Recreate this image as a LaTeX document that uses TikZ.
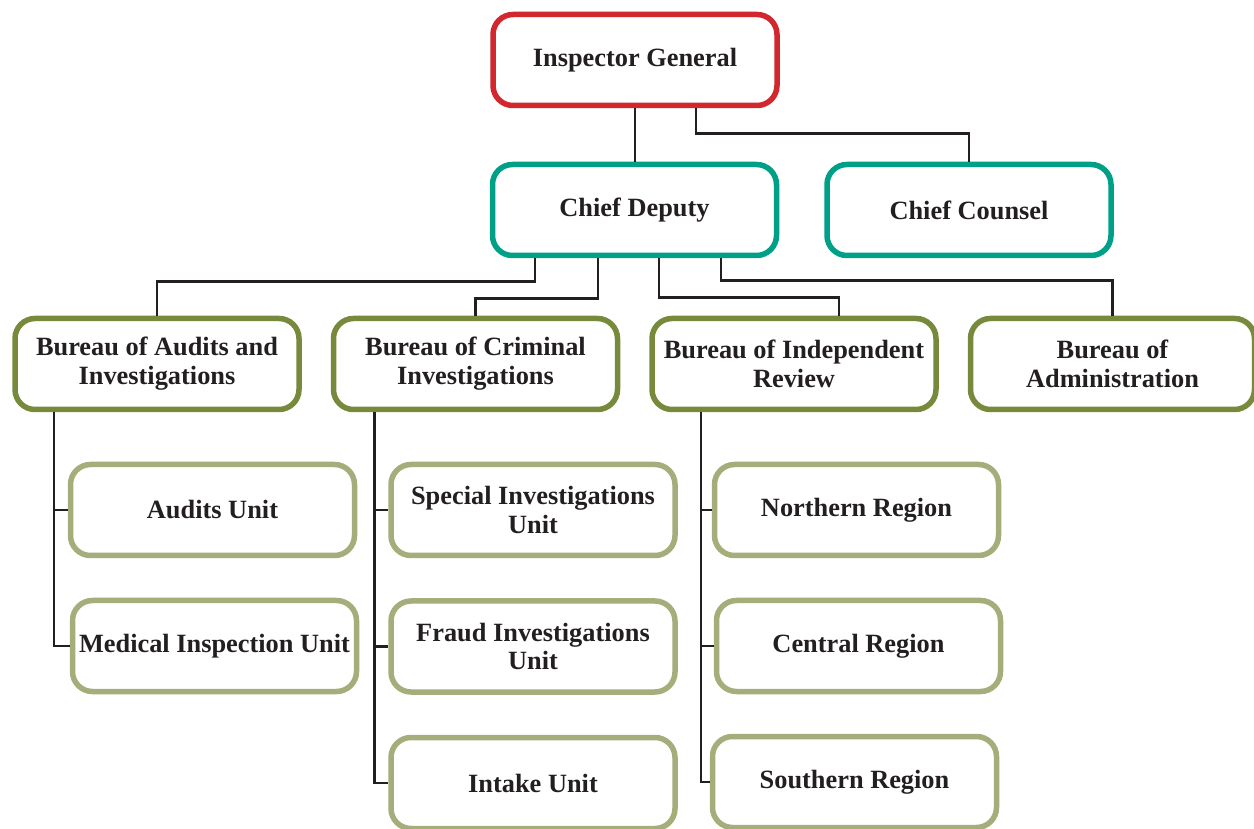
\documentclass[tikz,border=0pt]{standalone}
\usepackage{fontspec}
\setmainfont{Liberation Serif}
\usepackage{tikz}
\usetikzlibrary{calc,positioning}
\definecolor{igred}{HTML}{D3272E}
\definecolor{cdteal}{HTML}{00A088}
\definecolor{buolive}{HTML}{778A3B}
\definecolor{unitolive}{HTML}{A5AE7B}
\definecolor{txt}{HTML}{231F20}

\begin{document}
\begin{tikzpicture}[
		box/.style={draw,rounded corners=0.4cm,line width=0.11cm,minimum width=5.68cm,minimum height=1.82cm,
			align=center,text=txt,font=\fontsize{15}{16.4}\selectfont\bfseries},
		top/.style={box,draw=igred},
		deputy/.style={box,draw=cdteal},
		bureau/.style={box,draw=buolive},
		unit/.style={box,draw=unitolive},
		link/.style={line width=0.055cm,draw=txt}]
		\useasboundingbox (0,0) rectangle (25.08,-16.58);
		\node(ig)  [top] at (12.7,-1.2) {Inspector General};
		\node(cd)  [deputy] at (12.69,-4.2) {Chief Deputy};
		\node(cc)  [deputy,right=0.9 of cd] {Chief Counsel};
		\node(bai) [bureau] at (3.14,-7.28) {Bureau of Audits and\\Investigations};
		\node(bci) [bureau,right=0.58 of bai] {Bureau of Criminal\\Investigations};
		\node(bir) [bureau,right=0.58 of bci] {Bureau of Independent\\Review};
		\node(ba)  [bureau,right=0.58 of bir] {Bureau of\\Administration};
		\node(au)  [unit] at (4.25,-10.2) {Audits Unit};
		\node(miu) [unit] at (4.29,-12.92) {Medical Inspection Unit};
		\node(siu) [unit] at (10.66,-10.2) {Special Investigations\\Unit};
		\node(fiu) [unit,below=0.8 of siu] {Fraud Investigations\\Unit};
		\node(iu)  [unit,below=0.8 of fiu] {Intake Unit};
		\node(nr)  [unit] at (17.13,-10.2) {Northern Region};
		\node(cr)  [unit] at (17.17,-12.92) {Central Region};
		\node(sr)  [unit] at (17.09,-15.64) {Southern Region};
		\draw[link] (ig.south) -- (ig.south |- cd.north);
		\draw[link] ($(ig.south)+(1.22,0)$) -- ++(0,-0.5) -| (cc.north);
		\draw[link] ($(cd.south)+(-1.99,0)$) -- ++(0,-0.46) -| (bai.north);
		\draw[link] ($(cd.south)+(-0.73,0)$) -- ++(0,-0.8) -| (bci.north);
		\draw[link] ($(cd.south)+(0.49,0)$) -- ++(0,-0.78) -| ($(bir.north)+(0.9,0)$);
		\draw[link] ($(cd.south)+(1.73,0)$) -- ++(0,-0.44) -| (ba.north);
		\draw[link] ($(bai.south)+(-2.06,0)$) |- (au.west);
		\draw[link] ($(bai.south)+(-2.06,0)$) |- (miu.west);
		\draw[link] ($(bci.south)+(-2.02,0)$) |- (siu.west);
		\draw[link] ($(bci.south)+(-2.02,0)$) |- (fiu.west);
		\draw[link] ($(bci.south)+(-2.02,0)$) |- (iu.west);
		\draw[link] ($(bir.south)+(-1.86,0)$) |- (nr.west);
		\draw[link] ($(bir.south)+(-1.86,0)$) |- (cr.west);
		\draw[link] ($(bir.south)+(-1.86,0)$) |- (sr.west);
	\end{tikzpicture}
\end{document}
